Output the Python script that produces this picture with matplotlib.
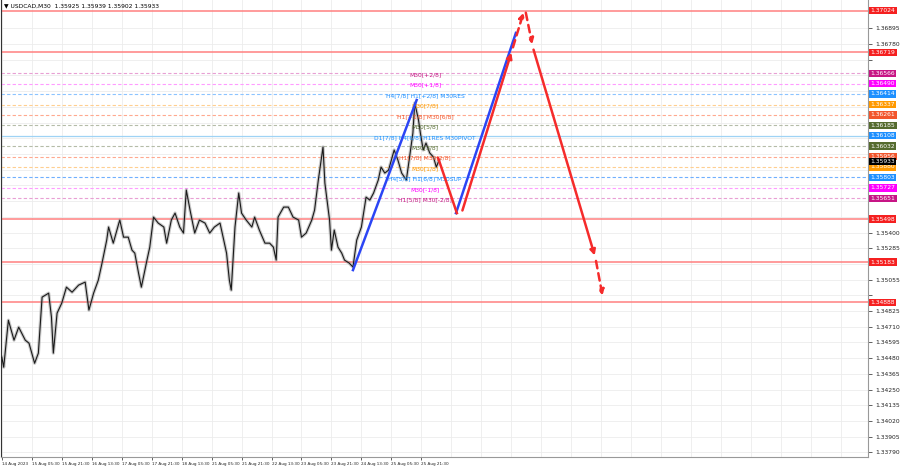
import numpy as np
import matplotlib.pyplot as plt
from matplotlib.transforms import blended_transform_factory

# USDCAD M30 closes (bar index, price)
bars = [0, 2, 7, 13, 18, 25, 29, 35, 39, 43, 50, 53, 55, 59, 64, 69, 75, 82, 89, 93,
        98, 103, 107, 112, 114, 119, 125, 126, 130, 135, 139, 142, 146, 149, 155, 158,
        162, 167, 173, 176, 181, 185, 190, 194, 197, 201, 206, 211, 217, 222, 227, 233,
        237, 240, 243, 245, 249, 253, 256, 261, 267, 270, 275, 281, 286, 290, 293, 295,
        301, 306, 311, 317, 320, 325, 331, 334, 338, 343, 345, 350, 352, 355, 359, 363,
        366, 371, 375, 379, 384, 389, 393, 397, 402, 405, 409, 413, 416, 419, 423, 427,
        432, 435, 439, 441, 445, 447, 450, 453, 457, 461, 464, 467]
closes = [1.34487, 1.34414, 1.34758, 1.34612, 1.34707, 1.34612, 1.34590, 1.34443, 1.34517,
          1.34927, 1.34956, 1.34780, 1.34517, 1.34810, 1.34883, 1.35000, 1.34963, 1.35015,
          1.35037, 1.34832, 1.34956, 1.35051, 1.35176, 1.35344, 1.35440, 1.35322, 1.35469,
          1.35491, 1.35366, 1.35366, 1.35271, 1.35249, 1.35103, 1.35000, 1.35198, 1.35293,
          1.35513, 1.35469, 1.35440, 1.35322, 1.35491, 1.35542, 1.35440, 1.35396, 1.35711,
          1.35564, 1.35396, 1.35491, 1.35469, 1.35396, 1.35440, 1.35469, 1.35344, 1.35249,
          1.35051, 1.34978, 1.35440, 1.35689, 1.35542, 1.35491, 1.35440, 1.35513, 1.35418,
          1.35322, 1.35322, 1.35293, 1.35198, 1.35513, 1.35586, 1.35586, 1.35513, 1.35491,
          1.35366, 1.35396, 1.35491, 1.35564, 1.35784, 1.36026, 1.35762, 1.35491, 1.35271,
          1.35418, 1.35293, 1.35249, 1.35198, 1.35176, 1.35147, 1.35344, 1.35440, 1.35659,
          1.35637, 1.35689, 1.35784, 1.35879, 1.35835, 1.35857, 1.35930, 1.36004, 1.35930,
          1.35835, 1.35784, 1.35930, 1.36128, 1.36348, 1.36223, 1.36128, 1.36004, 1.36055,
          1.35982, 1.35952, 1.35879, 1.35930]

header = "\u25BC USDCAD,M30  1.35925 1.35939 1.35902 1.35933"
last_price = 1.35933

time_labels = ["14 Aug 2023", "15 Aug 05:30", "15 Aug 21:30", "16 Aug 13:30", "17 Aug 05:30",
               "17 Aug 21:30", "18 Aug 13:30", "21 Aug 05:30", "21 Aug 21:30", "22 Aug 13:30",
               "23 Aug 05:30", "23 Aug 21:30", "24 Aug 13:30", "25 Aug 05:30", "25 Aug 21:30"]

# murrey levels
lvl_prices = [1.36566, 1.36490, 1.36414, 1.36337, 1.36261, 1.36185, 1.36108,
              1.36032, 1.35956, 1.35880, 1.35803, 1.35727, 1.35651]
lvl_names = ["M30[+2/8]", "M30[+1/8]", "H4[7/8] H1[+2/8] M30RES", "M30[7/8]",
             "H1[+1/8] M30[6/8]", "M30[5/8]", "D1[7/8] H4[6/8] H1RES M30PIVOT",
             "M30[3/8]", "H1[7/8] M30[2/8]", "M30[1/8]", "H4[5/8] H1[6/8] M30SUP",
             "M30[-1/8]", "H1[5/8] M30[-2/8]"]
lvl_colors = ["#C71585", "#FF00FF", "#1E90FF", "#FF9900", "#F2552C", "#556B2F", "#1E90FF",
              "#556B2F", "#F2552C", "#FF9900", "#1E90FF", "#FF00FF", "#C71585"]
lvl_line_colors = ["#E8A0D4", "#FF9CFF", "#8CC4FF", "#FFCF90", "#FFA98F", "#B5BCA8", "#9FD3F5",
                   "#B5BCA8", "#FFA98F", "#FFCF90", "#6FB0FF", "#FF9CFF", "#E8A0D4"]

red_levels = [1.37024, 1.36719, 1.35498, 1.35183, 1.34888]

# forecast path (bar, price)
blue1_x, blue1_y = [375, 443], [1.35125, 1.36370]
blue2_x, blue2_y = [485, 549], [1.35542, 1.36861]
red_down0_x, red_down0_y = [466, 486], [1.35945, 1.35542]
red_up_x, red_up_y = [491, 545, 558], [1.35542, 1.36736, 1.37029]
red_dn_x, red_dn_y = [559, 567, 634, 642], [1.37029, 1.36758, 1.35212, 1.34919]

ytick_vals = np.round(np.arange(1.33790, 1.36900, 0.00115), 5)

fig = plt.figure(figsize=(9, 4.68), dpi=100)
ax = fig.add_axes([0.001, 0.023, 0.9634, 0.977])
ax.set_xlim(-1, 925)
ax.set_ylim(1.33755, 1.37102)

# grid
for k in range(0, 30):
    ax.axvline(32 * k, color="#ECECEC", lw=0.6, zorder=0)
for v in ytick_vals:
    ax.axhline(v, color="#ECECEC", lw=0.6, zorder=0)

for p in red_levels:
    ax.axhline(p, color="#FF8080", lw=1.1, zorder=1)

for p, lc, c, nm in zip(lvl_prices, lvl_line_colors, lvl_colors, lvl_names):
    if "PIVOT" in nm:
        ax.axhline(p, color=lc, lw=0.9, zorder=1)
    else:
        ax.axhline(p, color=lc, lw=0.8, ls=(0, (3, 2)), zorder=1)
    ax.annotate(nm, (452, p), xytext=(0, -1.2), textcoords="offset points",
                ha="center", va="center", fontsize=4.3, color=c, zorder=4)

# price
ax.plot(bars, closes, color="#8A8A8A", lw=2.4, alpha=0.45, zorder=2)
ax.plot(bars, closes, color="#1A1A1A", lw=0.8, zorder=3)

# forecast
ax.plot(blue1_x, blue1_y, color="#2B45F5", lw=1.8, zorder=5)
ax.plot(blue2_x, blue2_y, color="#2B45F5", lw=1.8, zorder=5)
ax.plot(red_down0_x, red_down0_y, color="#F52B2B", lw=1.8, zorder=5)
arr = dict(arrowstyle="-|>", color="#F52B2B", lw=1.8, mutation_scale=8)
ax.annotate("", (red_up_x[1], red_up_y[1]), (red_up_x[0], red_up_y[0]), arrowprops=arr, zorder=5)
ax.annotate("", (red_up_x[2], red_up_y[2]), (red_up_x[1], red_up_y[1]),
            arrowprops=dict(arr, linestyle=(0, (3, 2))), zorder=5)
ax.annotate("", (red_dn_x[1], red_dn_y[1]), (red_dn_x[0], red_dn_y[0]),
            arrowprops=dict(arr, linestyle=(0, (3, 2))), zorder=5)
ax.annotate("", (red_dn_x[2], red_dn_y[2]), (red_dn_x[1], red_dn_y[1]), arrowprops=arr, zorder=5)
ax.annotate("", (red_dn_x[3], red_dn_y[3]), (red_dn_x[2], red_dn_y[2]),
            arrowprops=dict(arr, linestyle=(0, (3, 2))), zorder=5)

# axes
box_prices = red_levels + lvl_prices + [last_price]
ax.yaxis.tick_right()
ax.set_yticks(ytick_vals)
ylabels = []
for v in ytick_vals:
    hidden = min(abs(v - b) for b in box_prices) < 0.00058
    ylabels.append("" if hidden else f"{v:.5f}")
ax.set_yticklabels(ylabels, fontsize=4.3)
ax.tick_params(axis="y", length=3, width=0.5, pad=2, colors="#222222")
ax.set_xticks([32 * k for k in range(len(time_labels))])
ax.set_xticklabels(time_labels, fontsize=3.0, ha="left")
ax.tick_params(axis="x", length=2, width=0.5, pad=1.5, colors="#222222")
ax.spines["top"].set_visible(False)
ax.spines["right"].set_color("#999999")
ax.spines["bottom"].set_color("#999999")
ax.spines["left"].set_color("#333333")

# price boxes on right axis
tr = blended_transform_factory(ax.transAxes, ax.transData)
for p in red_levels:
    ax.text(1.003, p, f"{p:.5f}", transform=tr, fontsize=4.3, color="white", va="center",
            ha="left", bbox=dict(boxstyle="square,pad=0.2", fc="#F52020", ec="none"), clip_on=False)
for p, c in zip(lvl_prices, lvl_colors):
    ax.text(1.003, p, f"{p:.5f}", transform=tr, fontsize=4.3, color="white", va="center",
            ha="left", bbox=dict(boxstyle="square,pad=0.2", fc=c, ec="none"), clip_on=False)
ax.annotate(f"{last_price:.5f}", (1.003, last_price), xycoords=tr, xytext=(0, -1.5),
            textcoords="offset points", fontsize=4.3, color="white", va="center", ha="left",
            bbox=dict(boxstyle="square,pad=0.2", fc="black", ec="none"), annotation_clip=False)

ax.text(0.003, 0.993, header, transform=ax.transAxes, fontsize=4.3, va="top", ha="left")

fig.savefig("out.png", dpi=100)
